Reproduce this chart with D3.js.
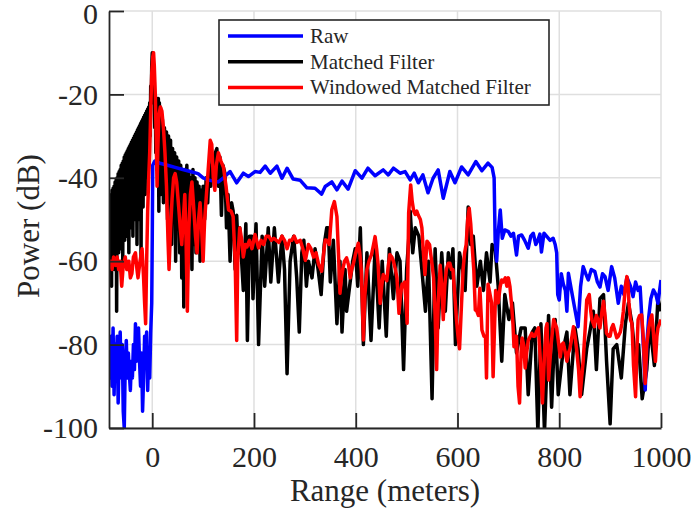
<!DOCTYPE html>
<html>
<head>
<meta charset="utf-8">
<script src="https://cdn.jsdelivr.net/npm/d3@7"></script>
<style>
  body { margin: 0; background: #fff; }
  text { font-family: "Liberation Serif", "Times New Roman", serif; fill: #262626; }
</style>
</head>
<body>
<div id="chart"></div>
<script>
// range in meters, power in dB
const rawPts = [
  [-85,-82],[-83,-88],[-81,-78],[-79,-90],[-77,-76],[-75,-92],[-73,-80],[-71,-86],[-69,-78],[-67,-94],
  [-65,-82],[-63,-77],[-61,-88],[-59,-80],[-57,-96],[-55,-100],[-53,-84],[-51,-79],[-49,-88],[-47,-82],
  [-45,-87],[-43,-91],[-41,-84],[-39,-88],[-37,-80],[-35,-86],[-33,-75],[-31,-84],[-29,-79],[-27,-76],
  [-25,-84],[-23,-90],[-21,-82],[-19,-96],[-17,-88],[-15,-78],[-13,-84],[-11,-77],[-9,-91],[-7,-82],
  [-5,-88],[-3,-77],[-1,-70],[0,-55],[1,-37],[5,-36],[15,-36.5],[30,-37],[45,-37.5],[60,-38],
  [75,-38.5],[90,-39],[100,-40],[110,-40.5],[120,-40.8],[130,-41],[140,-40],[153,-38.5],[166,-41.2],[179,-38.9],
  [189,-39.7],[202,-38.5],[212,-38.7],[222,-37.2],[232,-38.9],[245,-37.2],[255,-40.1],[265,-37.7],[277,-40.3],[291,-40.6],
  [304,-42.4],[320,-42.5],[333,-43.9],[340,-42.1],[353,-41],[363,-42.9],[373,-40.8],[385,-42.7],[399,-38.3],[412,-40.1],
  [424,-37.7],[438,-39.5],[454,-38.1],[464,-39.3],[474,-37.7],[487,-38.9],[497,-38.5],[507,-40.5],[515,-38.9],[523,-41.2],
  [532,-39.3],[542,-43.6],[552,-40.1],[562,-38.1],[572,-44.9],[585,-38.5],[595,-41.2],[608,-37.4],[621,-39.3],[636,-36.1],
  [648,-38.3],[660,-36.5],[668,-37.5],[672,-40],[674,-55],[677,-60],[680,-53.3],[684,-47.7],[688,-54.5],[693,-52.5],
  [700,-52.9],[705,-54],[710,-53.3],[716,-58.5],[720,-54],[726,-53.7],[732,-55],[739,-56.9],[744,-54],[749,-53.3],
  [754,-56],[758,-55],[762,-53.5],[765,-57.8],[770,-53.3],[775,-54],[782,-55],[788,-54.5],[792,-56],[795,-58],
  [797,-68],[800,-69.3],[804,-63],[808,-65.5],[812,-67],[815,-72],[818,-62.9],[824,-67],[831,-71.7],[837,-75.7],
  [842,-66],[847,-61.3],[852,-63],[857,-64.5],[863,-62],[870,-62.5],[875,-65],[880,-66.2],[885,-63],[890,-63.7],
  [896,-67],[903,-61.3],[909,-64],[916,-70.1],[922,-66],[927,-68],[933,-63.9],[940,-66],[945,-68.5],[950,-65],
  [955,-67],[959,-66.2],[963,-75],[966,-82],[969,-90.9],[972,-80],[976,-73.3],[980,-69],[985,-66.9],[990,-68],
  [994,-70.1],[1000,-64.5]
];

const mfPts = [
  [-85,-46],[-84,-60],[-83,-45],[-82,-56],[-81,-44],[-80,-66],[-79,-43],[-78,-57],[-77,-42.5],[-76,-55],
  [-75,-42],[-74,-62],[-73,-41],[-72,-54],[-71,-40.5],[-70,-72],[-69,-40],[-68,-55],[-67,-39],[-66,-58],
  [-65,-38.5],[-64,-53],[-63,-38],[-62,-57],[-61,-37],[-60,-52],[-59,-36.5],[-58,-60],[-57,-36],[-56,-52],
  [-55,-35],[-54,-55],[-53,-34.5],[-52,-50],[-51,-34],[-50,-54],[-49,-33.5],[-48,-49],[-47,-33],[-46,-58],
  [-45,-32.5],[-44,-50],[-43,-32],[-42,-52],[-41,-31.5],[-40,-48],[-39,-31],[-38,-54],[-37,-30.5],[-36,-46],
  [-35,-30],[-34,-50],[-33,-29.5],[-32,-45],[-31,-29],[-30,-56],[-29,-28.5],[-28,-46],[-27,-28],[-26,-50],
  [-25,-27.5],[-24,-44],[-23,-27],[-22,-60],[-21,-26.5],[-20,-43],[-19,-26],[-18,-47],[-17,-25.5],[-16,-42],
  [-15,-25],[-14,-44],[-13,-24.5],[-12,-40],[-11,-24],[-10,-38],[-9,-23.5],[-8,-36],[-7,-23],[-6,-34],
  [-5,-22],[-4,-30],[-3,-18],[-2,-22],[-1,-13],[0,-10],[1,-11],[2,-14],[3,-22],[4,-17],
  [5,-28],[6,-20],[7,-34],[8,-21],[9,-38],[10,-21],[11,-36],[12,-21],[13,-48],[14,-22],
  [15,-40],[16,-23],[17,-44],[18,-25],[19,-38],[20,-26],[22,-46],[24,-28],[26,-44],[28,-29],
  [30,-50],[32,-30],[34,-46],[36,-31],[38,-56],[40,-33],[42,-48],[44,-34],[46,-60],[48,-35],
  [50,-52],[52,-36],[54,-58],[56,-37],[58,-64],[60,-38],[62,-71],[64,-38],[66,-55],[68,-37],
  [70,-60],[72,-39],[74,-54],[76,-40],[78,-62],[80,-38],[82,-56],[84,-40],[86,-58],[88,-41],
  [90,-55],[92,-42],[94,-60],[96,-43],[98,-52],[100,-42],[103,-50],[106,-40],[109,-46],[112,-37],
  [115,-42],[118,-35],[121,-40],[124,-34],[127,-33],[130,-42],[133,-35],[136,-49],[139,-37],[143,-39],
  [146,-52],[149,-44],[153,-60],[156,-46],[159,-48],[163,-62],[166,-49],[169,-58],[172,-52],[179,-67],
  [184,-51],[187,-79],[191,-54],[196,-54],[198,-69],[204,-51],[209,-80],[216,-54],[221,-66],[228,-52],
  [233,-65],[240,-52],[248,-65],[255,-54],[260,-62],[265,-87],[271,-60],[278,-54],[284,-64],[289,-77],
  [294,-58],[298,-55],[303,-66],[307,-60],[314,-64],[320,-57],[326,-62],[332,-68],[338,-56],[343,-52],
  [346,-52],[350,-65],[356,-55],[363,-75],[369,-60],[373,-77],[379,-62],[382,-72],[389,-65],[394,-60],
  [399,-57],[404,-66],[409,-52],[415,-80],[422,-58],[430,-79],[438,-57],[446,-76],[452,-60],[460,-78],
  [466,-57],[474,-69],[481,-58],[487,-60],[494,-86],[500,-62],[504,-55],[507,-48],[512,-58],[517,-52],
  [524,-54],[530,-62],[537,-72],[543,-60],[550,-93],[556,-57],[562,-76],[569,-58],[576,-72],[582,-58],
  [587,-64],[591,-57],[596,-80],[604,-58],[610,-62],[615,-67],[621,-47],[626,-56],[631,-54],[638,-66],
  [645,-60],[651,-67],[657,-58],[664,-65],[668,-56],[674,-57],[680,-66],[687,-84],[693,-68],[701,-74],
  [708,-70],[716,-82],[725,-76],[733,-76],[739,-92],[747,-77],[752,-76],[758,-101],[764,-75],[771,-101],
  [779,-73],[785,-95],[792,-74],[798,-92],[808,-81],[815,-77],[821,-92],[831,-76],[837,-81],[844,-92],
  [854,-81],[860,-77],[867,-72],[873,-86],[880,-69],[887,-68],[893,-84],[900,-99],[906,-81],[913,-80],
  [922,-88],[930,-75],[936,-70],[943,-75],[949,-83],[956,-80],[963,-93],[972,-86],[978,-75],[987,-85],
  [994,-69],[1000,-72]
];

const wmfPts = [
  [-85,-60],[-82,-60],[-79,-62],[-76,-59],[-72,-61],[-69,-59],[-66,-62],[-63,-60],[-60,-66],[-57,-61],
  [-53,-59],[-50,-62],[-46,-60],[-43,-64],[-40,-63],[-37,-59],[-33,-58],[-30,-62],[-28,-64],[-24,-60],
  [-20,-57],[-17,-64],[-15,-70],[-13,-75],[-11,-60],[-9,-48],[-7,-40],[-5,-34],[-3,-24],[-1,-15],
  [1,-11],[2.6,-10],[4,-13],[6,-20],[8,-32],[9.5,-42],[11,-33],[13,-25],[16,-23],[19,-24],
  [22,-28],[25,-34],[28,-42],[31,-55],[33,-62],[36,-52],[39,-45],[42,-40],[45,-39],[48,-41],
  [52,-47],[55,-52],[58,-56],[62,-48],[64,-44],[66,-52],[69,-72],[72,-52],[75,-44],[78,-41],
  [82,-48],[85,-54],[88,-58],[91,-50],[94,-46],[97,-52],[100,-60],[103,-50],[106,-45],[110,-38],
  [114,-31],[117,-32],[120,-40],[123,-43],[126,-37],[130,-34],[135,-36],[140,-37.5],[145,-42],[150,-47.7],
  [155,-48],[159,-49.3],[163,-60],[166,-79],[168,-60],[172,-52],[176,-55],[179,-59],[183,-56],[186,-56.6],
  [191,-55],[196,-57],[202,-53.6],[209,-56.8],[214,-55],[219,-56],[224,-54],[229,-54],[234,-55],[239,-54.5],
  [244,-55],[249,-55.5],[255,-54],[260,-55],[265,-57],[270,-55],[274,-55],[279,-54],[284,-55.5],[291,-55],
  [296,-57],[301,-59.8],[307,-56],[312,-57],[317,-59],[322,-58],[327,-60.8],[333,-62.4],[337,-58],[340,-54.9],
  [344,-55],[348,-56],[353,-47.6],[358,-45.7],[363,-49.3],[366,-58],[369,-67.7],[372,-64],[375,-61.6],[378,-60],
  [382,-59.2],[386,-61],[389,-64],[392,-62],[395,-60.8],[400,-58],[405,-55.7],[408,-58],[411,-62.4],[413,-70],
  [415,-78.9],[418,-68],[422,-62],[426,-60],[431,-58.4],[435,-56],[438,-54.1],[441,-57],[444,-60.8],[448,-70.1],
  [451,-66],[454,-63.2],[458,-64],[461,-64.7],[464,-61],[467,-58.4],[471,-59],[474,-60],[478,-62],[481,-64],
  [485,-72.5],[488,-68],[491,-65.5],[494,-66],[496,-65],[499,-70],[501,-74.9],[504,-48.4],[508,-41.7],[511,-45.7],
  [514,-48],[517,-48.8],[520,-48],[523,-49],[527,-50],[530,-52],[533,-58],[536,-63.2],[540,-55.2],[545,-56],
  [550,-60.8],[553,-64],[556,-73],[559,-86],[562,-70],[566,-61],[569,-66],[572,-74],[575,-66],[578,-62],
  [582,-60.5],[585,-60.5],[588,-62],[591,-62],[594,-67],[598,-74],[601,-78],[604,-81],[608,-70],[611,-62],
  [614,-58],[617,-56],[620,-50],[623,-47.3],[626,-51],[628,-55],[632,-62],[635,-71.7],[638,-72],[641,-73],
  [644,-66.5],[648,-76.5],[652,-78],[655,-78],[657,-88],[660,-65.5],[664,-68],[667,-70],[670,-87.7],[673,-75],
  [675,-67],[677,-68],[680,-70],[684,-66],[687,-64.5],[690,-65],[694,-64],[697,-66],[700,-64],[703,-66],
  [706,-70],[709,-75],[711,-80.5],[714,-78],[716,-78],[719,-90],[722,-94],[725,-82],[727,-78.4],[730,-80],
  [733,-85.6],[736,-82],[739,-79],[743,-78],[746,-77.3],[749,-78],[752,-78],[755,-77],[759,-76],[763,-84],
  [767,-94],[771,-82],[774,-76],[776,-75],[779,-88.5],[784,-80],[789,-74],[792,-75],[795,-76],[799,-80],
  [802,-83],[805,-80],[808,-79.6],[812,-82],[815,-84],[818,-82],[821,-81],[825,-78],[828,-75.7],[831,-78],
  [834,-81],[838,-86],[841,-92.5],[844,-88],[847,-84],[851,-76],[854,-69.3],[857,-68.5],[859,-68],[862,-72],
  [864,-74],[867,-75],[869,-75.7],[871,-74],[873,-73],[876,-74],[880,-76],[884,-72],[887,-69.6],[890,-73],
  [893,-77.3],[897,-78],[900,-78],[903,-76],[906,-75.2],[910,-77],[913,-78.4],[916,-78],[920,-77],[923,-75],
  [926,-72],[930,-66],[933,-63.7],[935,-65],[937,-70],[940,-74],[943,-75],[946,-85],[950,-92.5],[953,-80],
  [955,-74],[958,-73],[962,-72.9],[965,-78],[969,-89.3],[972,-80],[976,-76],[979,-74],[982,-72.9],[985,-77],
  [989,-84],[992,-78],[994,-76],[997,-75],[1000,-74]
];

const xTicks = [0, 200, 400, 600, 800, 1000];
const yTicks = [0, -20, -40, -60, -80, -100];
const seriesNames = ["Raw", "Matched Filter", "Windowed Matched Filter"];
const seriesColors = ["#0000ff", "#000000", "#ff0000"];

const width = 692;
const height = 519;
const plot = { left: 109, right: 661, top: 11, bottom: 428 };

const svg = d3.select("#chart")
  .append("svg")
  .attr("width", width)
  .attr("height", height);

const x = d3.scaleLinear().domain([-85, 1000]).range([plot.left, plot.right]);
const y = d3.scaleLinear().domain([-100, 0]).range([plot.bottom, plot.top]);

// grid
svg.append("g")
  .selectAll("line")
  .data(xTicks)
  .enter().append("line")
  .attr("x1", d => x(d)).attr("x2", d => x(d))
  .attr("y1", plot.top).attr("y2", plot.bottom)
  .attr("stroke", "#dfdfdf").attr("stroke-width", 1.5);

svg.append("g")
  .selectAll("line")
  .data(yTicks)
  .enter().append("line")
  .attr("x1", plot.left).attr("x2", plot.right)
  .attr("y1", d => y(d)).attr("y2", d => y(d))
  .attr("stroke", "#dfdfdf").attr("stroke-width", 1.5);

svg.append("clipPath")
  .attr("id", "clip")
  .append("rect")
  .attr("x", plot.left).attr("y", plot.top)
  .attr("width", plot.right - plot.left)
  .attr("height", plot.bottom - plot.top);

const line = d3.line().x(d => x(d[0])).y(d => y(d[1]));

// matched filter underneath, raw over it, windowed on top
const drawOrder = [[mfPts, 1], [rawPts, 0], [wmfPts, 2]];
svg.append("g")
  .attr("clip-path", "url(#clip)")
  .selectAll("path")
  .data(drawOrder)
  .enter().append("path")
  .attr("d", d => line(d[0]))
  .attr("fill", "none")
  .attr("stroke", d => seriesColors[d[1]])
  .attr("stroke-width", 3.5)
  .attr("stroke-linejoin", "round");

// axes, ticks pointing inward; plain hyphen minus like the original
const fmt = d => String(d);

const yAxis = svg.append("g")
  .attr("transform", `translate(${plot.left},0)`)
  .call(d3.axisLeft(y).tickValues(yTicks).tickFormat(fmt).tickSize(-15).tickSizeOuter(0).tickPadding(11));

const xAxis = svg.append("g")
  .attr("transform", `translate(0,${plot.bottom})`)
  .call(d3.axisBottom(x).tickValues(xTicks).tickFormat(fmt).tickSize(-15).tickSizeOuter(0).tickPadding(18));

[xAxis, yAxis].forEach(a => {
  a.selectAll("path, line").attr("stroke", "#262626").attr("stroke-width", 1.8);
  a.selectAll("text")
    .attr("fill", "#262626")
    .style("font-family", "'Liberation Serif', serif")
    .style("font-size", "30px");
});

// top label sits right at the edge, nudge it down a touch
yAxis.selectAll(".tick text")
  .filter(d => d === 0)
  .attr("dy", "0.4em");

svg.append("text")
  .attr("x", (plot.left + plot.right) / 2)
  .attr("y", 501)
  .attr("text-anchor", "middle")
  .style("font-size", "31px")
  .text("Range (meters)");

svg.append("text")
  .attr("transform", "translate(39,226) rotate(-90)")
  .attr("text-anchor", "middle")
  .style("font-size", "31px")
  .text("Power (dB)");

// legend
const legend = svg.append("g");
legend.append("rect")
  .attr("x", 219).attr("y", 20)
  .attr("width", 330).attr("height", 85)
  .attr("fill", "#fff")
  .attr("stroke", "#262626").attr("stroke-width", 1.6);

const item = legend.selectAll(".item")
  .data(seriesNames)
  .enter().append("g")
  .attr("transform", (d, i) => `translate(0,${36 + i * 25.7})`);

item.append("line")
  .attr("x1", 228).attr("x2", 303)
  .attr("stroke", (d, i) => seriesColors[i])
  .attr("stroke-width", 3.5);

item.append("text")
  .attr("x", 310)
  .attr("y", 7)
  .style("font-size", "21px")
  .text(d => d);
</script>
</body>
</html>
